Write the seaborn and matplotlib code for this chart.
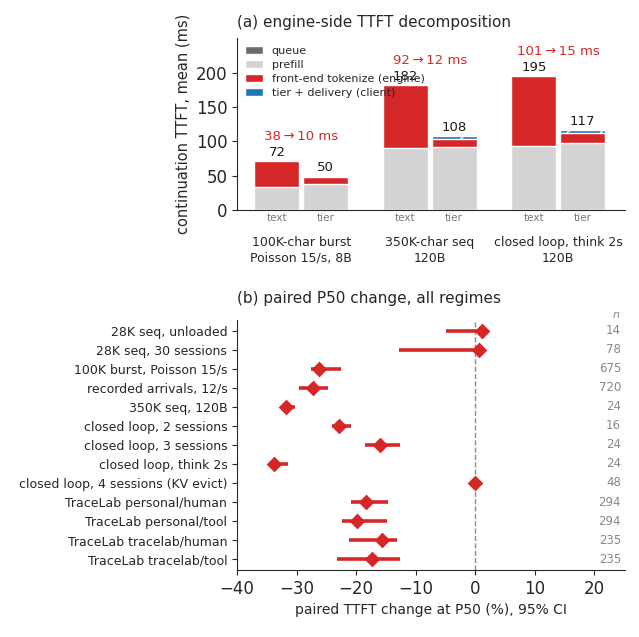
import matplotlib
matplotlib.use("Agg")
import matplotlib.pyplot as plt
import matplotlib.transforms as mtransforms
from matplotlib.patches import Patch
import seaborn as sns
import pandas as pd

# ---- panel (a): engine-side TTFT decomposition (ms) ----
groups = ["100K-char burst\nPoisson 15/s, 8B", "350K-char seq\n120B", "closed loop, think 2s\n120B"]
modes = ["text", "tier"]
queue_ms = [0, 0, 0, 0, 0, 0]
prefill_ms = [34, 38, 90, 92, 94, 97]
tokenize_ms = [38, 10, 92, 12, 101, 15]
tier_ms = [0, 2, 0, 4, 0, 5]
savings = ["38\u2009\u2192\u200910 ms", "92\u2009\u2192\u200912 ms", "101\u2009\u2192\u200915 ms"]

# ---- panel (b): paired P50 change, all regimes ----
regimes = [
    "28K seq, unloaded",
    "28K seq, 30 sessions",
    "100K burst, Poisson 15/s",
    "recorded arrivals, 12/s",
    "350K seq, 120B",
    "closed loop, 2 sessions",
    "closed loop, 3 sessions",
    "closed loop, think 2s",
    "closed loop, 4 sessions (KV evict)",
    "TraceLab personal/human",
    "TraceLab personal/tool",
    "TraceLab tracelab/human",
    "TraceLab tracelab/tool",
]
p50_change = [1.2, 0.7, -26.2, -27.3, -31.7, -22.8, -15.9, -33.8, 0.0, -18.3, -19.8, -15.7, -17.3]
ci_low = [-4.8, -12.8, -27.6, -29.6, -32.5, -24.1, -18.5, -34.6, -0.2, -20.9, -22.4, -21.2, -23.2]
ci_high = [1.5, 1.0, -22.6, -24.7, -30.3, -20.8, -12.6, -31.5, 0.2, -14.7, -14.8, -13.2, -12.6]
n_pairs = [14, 78, 675, 720, 24, 16, 24, 24, 48, 294, 294, 235, 235]

RED = "#d62728"
BLUE = "#1f77b4"
PREFILL = "#d3d3d3"
QUEUE = "#6b6b6b"

sns.set_style("ticks")
plt.rcParams["font.family"] = ["DejaVu Sans"]

fig = plt.figure(figsize=(6.39, 6.37), dpi=100)
ax_a = fig.add_axes([0.371, 0.670, 0.607, 0.270])
ax_b = fig.add_axes([0.371, 0.105, 0.607, 0.393])

# stacked bars via cumulative layers
offset = 0.19
pos = []
for g in range(len(groups)):
    pos += [g - offset, g + offset]
bars = pd.DataFrame({
    "pos": pos,
    "mode": modes * len(groups),
    "queue": queue_ms,
    "prefill": prefill_ms,
    "tokenize": tokenize_ms,
    "tier": tier_ms,
})
bars["c_queue"] = bars["queue"]
bars["c_prefill"] = bars["c_queue"] + bars["prefill"]
bars["c_tokenize"] = bars["c_prefill"] + bars["tokenize"]
bars["c_tier"] = bars["c_tokenize"] + bars["tier"]

width = 0.35 / (2 * offset)
layers = [
    ("c_tier", BLUE, "/"),
    ("c_tokenize", RED, None),
    ("c_prefill", PREFILL, None),
    ("c_queue", QUEUE, None),
]
for col, color, hatch in layers:
    kw = {"hatch": hatch} if hatch else {}
    sns.barplot(data=bars, x="pos", y=col, native_scale=True, width=width,
                color=color, saturation=1, edgecolor="white", linewidth=1,
                errorbar=None, ax=ax_a, **kw)

for _, row in bars.iterrows():
    ax_a.text(row["pos"], row["c_tier"] + 3, f"{row['c_tier']:.0f}",
              ha="center", va="bottom", fontsize=9.5, color="#1a1a1a")

for g, label in enumerate(savings):
    top = bars["c_tier"].iloc[2 * g:2 * g + 2].max()
    ax_a.text(g, top + 35, label, ha="center", va="center", fontsize=9.5, color=RED)

ax_a.set_xticks(pos, bars["mode"])
ax_a.tick_params(axis="x", length=0, labelsize=7.5, labelcolor="#777777", pad=2)
ax_a.tick_params(axis="y", labelsize=12)
trans = mtransforms.blended_transform_factory(ax_a.transData, ax_a.transAxes)
for g, label in enumerate(groups):
    ax_a.text(g, -0.15, label, transform=trans, ha="center", va="top",
              fontsize=9, linespacing=1.25)
ax_a.set_xlim(-0.5, 2.52)
ax_a.set_ylim(0, 250)
ax_a.set_yticks([0, 50, 100, 150, 200])
ax_a.set_xlabel("")
ax_a.set_ylabel("continuation TTFT, mean (ms)", fontsize=10.5)
ax_a.set_title("(a) engine-side TTFT decomposition", loc="left", fontsize=11, pad=8)
handles = [
    Patch(facecolor=QUEUE, edgecolor="white", label="queue"),
    Patch(facecolor=PREFILL, edgecolor="white", label="prefill"),
    Patch(facecolor=RED, edgecolor="white", label="front-end tokenize (engine)"),
    Patch(facecolor=BLUE, edgecolor="white", hatch="/", label="tier + delivery (client)"),
]
ax_a.legend(handles=handles, loc="upper left", bbox_to_anchor=(0.0, 1.0), frameon=False,
            fontsize=8, handlelength=1.6, handleheight=0.8, labelspacing=0.35,
            borderaxespad=0.3)
sns.despine(ax=ax_a)

# forest plot
forest = pd.DataFrame({
    "regime": regimes,
    "change": p50_change,
    "lo": ci_low,
    "hi": ci_high,
    "n": n_pairs,
})
ax_b.axvline(0, color="#8c8c8c", ls="--", lw=1, zorder=1)
ax_b.hlines(range(len(forest)), forest["lo"], forest["hi"], color=RED, lw=2.6, zorder=2)
sns.stripplot(data=forest, x="change", y="regime", orient="h", jitter=False,
              marker="D", size=8, color=RED, linewidth=0, zorder=3, ax=ax_b)
trans_b = mtransforms.blended_transform_factory(ax_b.transAxes, ax_b.transData)
for i, n in enumerate(forest["n"]):
    ax_b.text(0.99, i, str(n), transform=trans_b, ha="right", va="center",
              fontsize=8.5, color="#888888")
ax_b.text(0.985, -0.85, "n", transform=trans_b, ha="right", va="center",
          fontsize=8, color="#888888", style="italic", clip_on=False)
ax_b.set_xlim(-40, 25.2)
ax_b.set_ylim(len(forest) - 0.42, -0.58)
ax_b.set_xticks([-40, -30, -20, -10, 0, 10, 20])
ax_b.tick_params(axis="x", labelsize=12)
ax_b.tick_params(axis="y", labelsize=9)
ax_b.set_ylabel("")
ax_b.set_xlabel("paired TTFT change at P50 (%), 95% CI", fontsize=10)
ax_b.set_title("(b) paired P50 change, all regimes", loc="left", fontsize=11, pad=12)
sns.despine(ax=ax_b)

fig.savefig("out.png", dpi=100)
